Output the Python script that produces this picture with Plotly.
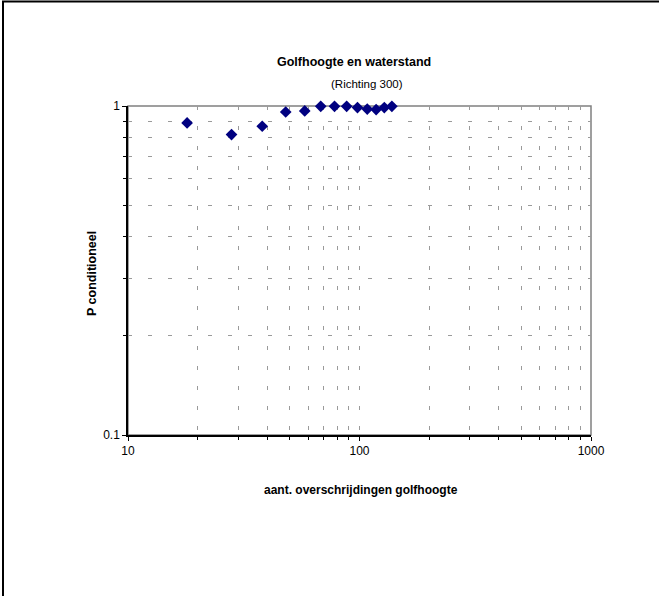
import plotly.graph_objects as go

# Data
exceedances = [18, 28, 38, 48, 58, 68, 78, 88, 98, 108, 118, 128, 138]
p_conditional = [0.888, 0.819, 0.868, 0.959, 0.966, 0.998, 0.998, 0.998, 0.989, 0.979, 0.975, 0.989, 0.998]

x_major = [10, 100, 1000]
x_major_text = ["10", "100", "1000"]
x_minor = [20, 30, 40, 50, 60, 70, 80, 90, 200, 300, 400, 500, 600, 700, 800, 900]
y_major = [0.1, 1]
y_major_text = ["0.1", "1"]
y_minor = [0.2, 0.3, 0.4, 0.5, 0.6, 0.7, 0.8, 0.9]

W, H = 659, 596
ML, MR, MT, MB = 128, 68, 106, 161
PW, PH = W - ML - MR, H - MT - MB

def px_x(p):
    return (p - ML) / PW

def px_y(p):
    return (H - MB - p) / PH

FONT = "Liberation Sans, Arial, sans-serif"
GRID = "#9a9a9a"

fig = go.Figure()
fig.add_trace(go.Scatter(
    x=exceedances, y=p_conditional, mode="markers",
    marker=dict(symbol="diamond", size=9, color="#000080", line=dict(width=0)),
    cliponaxis=False, showlegend=False,
))

axis_common = dict(
    type="log", showgrid=True, gridcolor=GRID, gridwidth=1, griddash="4px,16px",
    showline=True, linecolor="black", linewidth=1.5, zeroline=False,
    ticks="outside", ticklen=4, tickcolor="black", tickwidth=1,
    tickfont=dict(family=FONT, size=12, color="black"),
)

fig.update_xaxes(
    **axis_common, range=[1, 3], tickvals=x_major, ticktext=x_major_text,
    minor=dict(tickvals=x_minor, showgrid=True, gridcolor=GRID, griddash="4px,16px",
               gridwidth=1, ticks="outside", ticklen=3, tickcolor="black"),
)
fig.update_yaxes(
    **axis_common, range=[-1, 0], tickvals=y_major, ticktext=y_major_text,
    minor=dict(tickvals=y_minor, showgrid=True, gridcolor=GRID, griddash="4px,16px",
               gridwidth=1, ticks="outside", ticklen=3, tickcolor="black"),
)

shapes = [
    # plot area border (gray)
    dict(type="rect", xref="paper", yref="paper", x0=0, x1=1, y0=0, y1=1,
         line=dict(color="#808080", width=1.5), layer="below"),
    # outer chart border
    dict(type="rect", xref="paper", yref="paper",
         x0=px_x(3), x1=px_x(668), y0=px_y(605), y1=px_y(1.5),
         line=dict(color="black", width=2), layer="above"),
]

annotations = [
    dict(text="<b>Golfhoogte en waterstand</b>", x=px_x(354), y=px_y(62), xref="paper", yref="paper",
         showarrow=False, font=dict(family=FONT, size=12.5, color="black"), xanchor="center", yanchor="middle"),
    dict(text="(Richting 300)", x=px_x(367), y=px_y(84), xref="paper", yref="paper",
         showarrow=False, font=dict(family=FONT, size=11.5, color="black"), xanchor="center", yanchor="middle"),
    dict(text="<b>aant. overschrijdingen golfhoogte</b>", x=px_x(361), y=px_y(490), xref="paper", yref="paper",
         showarrow=False, font=dict(family=FONT, size=12, color="black"), xanchor="center", yanchor="middle"),
    dict(text="<b>P conditioneel</b>", x=px_x(92), y=px_y(274), xref="paper", yref="paper",
         showarrow=False, textangle=-90, font=dict(family=FONT, size=12.5, color="black"),
         xanchor="center", yanchor="middle"),
]

fig.update_layout(
    width=W, height=H, autosize=False,
    margin=dict(l=ML, r=MR, t=MT, b=MB, pad=0),
    paper_bgcolor="white", plot_bgcolor="white",
    shapes=shapes, annotations=annotations, showlegend=False,
)

fig.write_html("out.html")
